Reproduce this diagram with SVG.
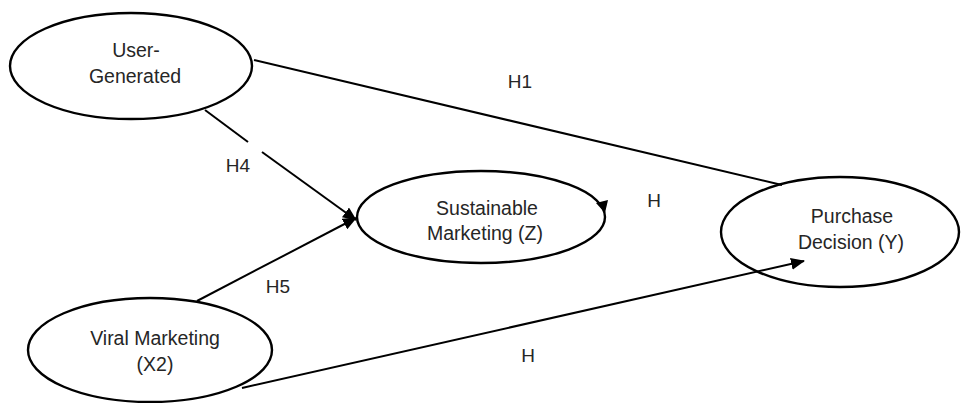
<svg xmlns="http://www.w3.org/2000/svg" width="963" height="403" viewBox="0 0 963 403">
  <style>
    .node ellipse { fill: none; stroke: #000000; stroke-width: 2.4; }
    .node text { font-family: "Liberation Sans", Arial, sans-serif; font-size: 19.5px; fill: #262626; text-anchor: middle; }
    .edges line { stroke: #000000; stroke-width: 2; fill: none; }
    .lbl { font-family: "Liberation Sans", Arial, sans-serif; font-size: 19px; fill: #262626; text-anchor: middle; }
  </style>
  <defs>
    <marker id="arrow" markerUnits="userSpaceOnUse" markerWidth="14" markerHeight="12" refX="13" refY="6" orient="auto">
      <path d="M0,0 L14,6 L0,12 Z" fill="#000000"/>
    </marker>
  </defs>
  <rect width="963" height="403" fill="#ffffff"/>

  <g id="node-user-generated" class="node">
    <ellipse cx="131" cy="66" rx="121" ry="53"/>
    <text x="136" y="57">User-</text>
    <text x="135" y="83">Generated</text>
  </g>

  <g id="node-sustainable-marketing" class="node">
    <ellipse cx="481" cy="217" rx="124" ry="46"/>
    <text x="487" y="215">Sustainable</text>
    <text x="485" y="240">Marketing (Z)</text>
  </g>

  <g id="node-purchase-decision" class="node">
    <ellipse cx="840" cy="232" rx="119" ry="55"/>
    <text x="852" y="223">Purchase</text>
    <text x="851" y="249">Decision (Y)</text>
  </g>

  <g id="node-viral-marketing" class="node">
    <ellipse cx="150" cy="350" rx="122" ry="52"/>
    <text x="155" y="345">Viral Marketing</text>
    <text x="155" y="371">(X2)</text>
  </g>

  <!-- connectors, drawn over the ellipse outlines -->
  <g id="edges" class="edges">
    <line x1="254" y1="60" x2="782" y2="185"/>
    <line x1="205" y1="110" x2="248" y2="142"/>
    <line x1="262" y1="152" x2="356" y2="220" marker-end="url(#arrow)"/>
    <line x1="197" y1="301" x2="356" y2="218" marker-end="url(#arrow)"/>
    <line x1="242" y1="388" x2="804" y2="261" marker-end="url(#arrow)"/>
    <polygon points="596,203 608,200 605,213" fill="#000000" stroke="none"/>
  </g>

  <!-- hypothesis labels -->
  <g id="labels">
    <text class="lbl" x="520" y="88">H1</text>
    <text class="lbl" x="238" y="172">H4</text>
    <text class="lbl" x="278" y="293">H5</text>
    <text class="lbl" x="654" y="207">H</text>
    <text class="lbl" x="528" y="362">H</text>
  </g>
</svg>
